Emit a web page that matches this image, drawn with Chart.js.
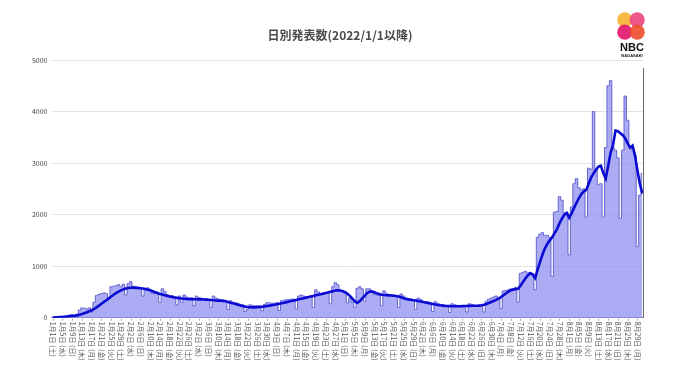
<!DOCTYPE html>
<html><head><meta charset="utf-8">
<script src="https://cdn.jsdelivr.net/npm/chart.js@4.4.1/dist/chart.umd.min.js"></script>
<style>html,body{margin:0;padding:0;background:#fff;}#wrap{width:680px;height:382px;}</style>
</head><body><div id="wrap"><canvas id="c" width="680" height="382"></canvas></div>
<script>
const chartTitle = '日別発表数(2022/1/1以降)';
const startYear = 2022;
// daily announced counts, 2022/1/1 - 2022/8/31
const daily = [
  10, 12, 8, 20, 25, 30, 40, 55, 60, 30,
  70, 150, 190, 185, 170, 190, 110, 300, 430, 450,
  470, 480, 470, 370, 600, 610, 620, 640, 600, 650,
  440, 660, 700, 610, 560, 570, 580, 420, 560, 580,
  550, 470, 480, 470, 300, 560, 510, 450, 420, 430,
  400, 250, 420, 300, 440, 400, 380, 390, 230, 420,
  390, 380, 360, 370, 350, 200, 420, 380, 360, 350,
  340, 330, 160, 330, 300, 290, 280, 260, 250, 120,
  170, 250, 240, 230, 235, 230, 130, 260, 290, 290,
  280, 280, 290, 140, 330, 340, 350, 350, 360, 360,
  170, 420, 440, 420, 410, 400, 420, 200, 540, 500,
  470, 460, 470, 480, 270, 600, 680, 640, 540, 520,
  500, 290, 380, 300, 200, 570, 600, 560, 320, 560,
  560, 500, 450, 440, 430, 230, 520, 470, 450, 440,
  440, 420, 200, 460, 420, 380, 370, 360, 350, 160,
  380, 360, 320, 300, 310, 290, 120, 310, 280, 260,
  250, 240, 230, 100, 270, 250, 240, 230, 230, 220,
  110, 270, 260, 240, 230, 240, 230, 110, 320, 360,
  380, 400, 420, 380, 180, 520, 530, 540, 560, 560,
  590, 300, 860, 880, 900, 870, 880, 850, 540, 1560,
  1620, 1650, 1590, 1600, 1560, 800, 2050, 2060, 2350, 2280,
  2040, 2050, 1220, 2150, 2600, 2700, 2520, 2480, 2500, 1950,
  2900, 2880, 4000, 2870, 2580, 2600, 1950, 3300, 4500, 4600,
  3300, 3250, 3100, 1930, 3250, 4300, 3830, 3300, 3250, 3150,
  1380, 2380, 2800
];
// 7-day average line
const average = [
  5, 7, 9, 11, 14, 18, 22, 27, 32, 38,
  45, 58, 72, 88, 105, 125, 145, 170, 200, 235,
  270, 305, 340, 375, 410, 445, 475, 505, 530, 550,
  565, 575, 582, 585, 583, 578, 572, 565, 556, 545,
  530, 512, 495, 478, 462, 448, 435, 423, 412, 402,
  393, 385, 378, 372, 367, 363, 360, 358, 357, 357,
  356, 355, 353, 350, 347, 343, 339, 335, 332, 330,
  326, 318, 306, 292, 278, 264, 250, 237, 225, 215,
  207, 202, 200, 201, 204, 208, 213, 219, 226, 234,
  242, 251, 260, 270, 280, 291, 302, 313, 324, 335,
  345, 356, 367, 378, 389, 400, 411, 422, 434, 445,
  456, 467, 478, 490, 502, 515, 527, 533, 528, 515,
  495, 462, 420, 370, 315, 290, 320, 370, 425, 475,
  505, 510, 495, 475, 458, 447, 440, 436, 433, 430,
  426, 420, 410, 395, 378, 365, 355, 347, 340, 333,
  325, 315, 305, 295, 285, 275, 265, 256, 248, 240,
  234, 229, 226, 224, 223, 222, 222, 223, 224, 226,
  228, 230, 231, 232, 233, 235, 240, 250, 265, 285,
  305, 325, 345, 370, 400, 435, 470, 505, 530, 545,
  555, 560, 620, 690, 760, 820, 860, 840, 770, 930,
  1080, 1220, 1340, 1430, 1500, 1560, 1640, 1720, 1830, 1920,
  2000, 2030, 1940, 2030, 2130, 2230, 2320, 2400, 2450, 2480,
  2600, 2720, 2800, 2870, 2930, 2950, 2800, 2700, 2950, 3200,
  3350, 3630, 3620, 3580, 3540, 3480, 3380, 3300, 3340, 3150,
  2860, 2600, 2410
];
// x tick labels, one every 4 days
const tickLabels = [
  '1月1日 (土)','1月5日 (水)','1月9日 (日)','1月13日 (木)','1月17日 (月)','1月21日 (金)','1月25日 (火)','1月29日 (土)',
  '2月2日 (水)','2月6日 (日)','2月10日 (木)','2月14日 (月)','2月18日 (金)','2月22日 (火)','2月26日 (土)',
  '3月2日 (水)','3月6日 (日)','3月10日 (木)','3月14日 (月)','3月18日 (金)','3月22日 (火)','3月26日 (土)','3月30日 (水)',
  '4月3日 (日)','4月7日 (木)','4月11日 (月)','4月15日 (金)','4月19日 (火)','4月23日 (土)','4月27日 (水)',
  '5月1日 (日)','5月5日 (木)','5月9日 (月)','5月13日 (金)','5月17日 (火)','5月21日 (土)','5月25日 (水)','5月29日 (日)',
  '6月2日 (木)','6月6日 (月)','6月10日 (金)','6月14日 (火)','6月18日 (土)','6月22日 (水)','6月26日 (日)','6月30日 (木)',
  '7月4日 (月)','7月8日 (金)','7月12日 (火)','7月16日 (土)','7月20日 (水)','7月24日 (日)','7月28日 (木)',
  '8月1日 (月)','8月5日 (金)','8月9日 (火)','8月13日 (土)','8月17日 (水)','8月21日 (日)','8月25日 (木)','8月29日 (月)'
];
const tickEvery = 4;
const yTicks = [0, 1000, 2000, 3000, 4000, 5000];

const categories = [];
for (let i = 0; i < daily.length; i++) {
  const dt = new Date(startYear, 0, 1 + i);
  categories.push((dt.getMonth() + 1) + '月' + dt.getDate() + '日');
}

const FONT = '"Noto Sans CJK JP", "Noto Sans", sans-serif';

const decor = {
  id: 'decor',
  afterDraw(chart) {
    const ctx = chart.ctx, xs = chart.scales.x, area = chart.chartArea;
    ctx.save();
    // title
    ctx.fillStyle = '#4a4a4a';
    ctx.font = 'bold 12px ' + FONT;
    ctx.textAlign = 'center';
    ctx.textBaseline = 'middle';
    ctx.fillText(chartTitle, 340, 35);
    // x tick labels (rotated, reading downward)
    ctx.font = '7px ' + FONT;
    ctx.fillStyle = '#555';
    ctx.strokeStyle = '#aaa';
    ctx.lineWidth = 1;
    tickLabels.forEach((t, k) => {
      const x = xs.getPixelForValue(k * tickEvery);
      ctx.beginPath();
      ctx.moveTo(Math.round(x) + 0.5, area.bottom + 1);
      ctx.lineTo(Math.round(x) + 0.5, area.bottom + 3);
      ctx.stroke();
      ctx.save();
      ctx.translate(x, area.bottom + 4);
      ctx.rotate(Math.PI / 2);
      ctx.textAlign = 'left';
      ctx.textBaseline = 'middle';
      ctx.fillText(t, 0, 0);
      ctx.restore();
    });
    // right border
    ctx.strokeStyle = '#666';
    ctx.beginPath();
    ctx.moveTo(Math.round(area.right) - 0.5, area.top + 8);
    ctx.lineTo(Math.round(area.right) - 0.5, area.bottom);
    ctx.stroke();
    // logo
    const cx = 631, cy = 26, o = 6.2, r = 7.6;
    const blobs = [[-o, -o, '#f8b434'], [o, -o, '#ec4681'], [-o, o, '#e2186c'], [o, o, '#ee5030']];
    ctx.globalAlpha = 0.92;
    blobs.forEach(b => { ctx.fillStyle = b[2]; ctx.beginPath(); ctx.arc(cx + b[0], cy + b[1], r, 0, Math.PI * 2); ctx.fill(); });
    ctx.globalAlpha = 1;
    ctx.fillStyle = '#111';
    ctx.textAlign = 'center';
    ctx.textBaseline = 'middle';
    ctx.font = 'bold 11px "Liberation Sans", Arial, sans-serif';
    ctx.fillText('NBC', cx + 1, 48);
    ctx.font = 'bold 4px "Liberation Sans", Arial, sans-serif';
    ctx.fillText('NAGASAKI', cx + 1, 56);
    ctx.restore();
  }
};

new Chart(document.getElementById('c').getContext('2d'), {
  type: 'line',
  data: {
    labels: categories,
    datasets: [
      { label: '平均', data: average, borderColor: '#0a0ad2', borderWidth: 2.6, pointRadius: 0, fill: false, tension: 0, order: 0 },
      { label: '日別発表数', data: daily, stepped: 'middle', fill: 'origin', backgroundColor: 'rgba(140,140,240,0.72)', borderColor: '#6464d0', borderWidth: 1, pointRadius: 0, order: 1 }
    ]
  },
  options: {
    responsive: false,
    animation: false,
    devicePixelRatio: 1,
    layout: { padding: { top: 60, right: 36.5, left: 0, bottom: 0 } },
    plugins: { legend: { display: false }, tooltip: { enabled: false }, title: { display: false } },
    scales: {
      x: {
        offset: true,
        grid: { display: false },
        ticks: { display: false },
        border: { display: true, color: '#8888d6', width: 1 },
        afterFit(s) { s.height = 64.3; }
      },
      y: {
        min: 0, max: 5000,
        afterBuildTicks(s) { s.ticks = yTicks.map(v => ({ value: v })); },
        ticks: { font: { size: 7, family: FONT }, color: '#444', padding: 4, callback: v => String(v) },
        grid: { color: '#e2e2e2', drawTicks: false, lineWidth: 1 },
        border: { display: false },
        afterFit(s) { s.width = 51.5; }
      }
    }
  },
  plugins: [decor]
});
</script>
</body></html>
